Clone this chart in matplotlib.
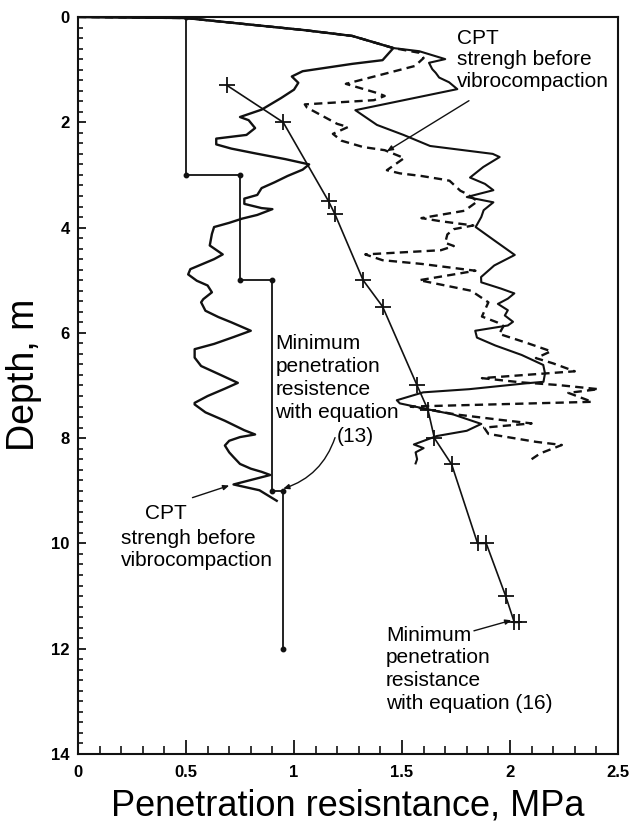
import matplotlib
matplotlib.use("Agg")
import matplotlib.pyplot as plt
from matplotlib.ticker import MultipleLocator, FuncFormatter

plt.rcParams['font.family'] = ['Liberation Sans', 'DejaVu Sans']

# Minimum penetration resistance, equation (13): stepped profile
step_x = [0.5, 0.5, 0.75, 0.75, 0.9, 0.9, 0.95, 0.95]
step_depth = [0, 3, 3, 5, 5, 9, 9, 12]

# Minimum penetration resistance, equation (16)
eq16_x = [0.69, 0.95, 1.16, 1.19, 1.32, 1.41, 1.57, 1.62, 1.65, 1.73,
          1.85, 1.89, 1.98, 2.02, 2.04]
eq16_depth = [1.3, 2.0, 3.5, 3.75, 5.0, 5.5, 7.0, 7.46, 8.0, 8.5,
              10.0, 10.0, 11.0, 11.5, 11.5]

# CPT sounding (left profile)
cpt_left_x = [0, 0.5, 0.81, 1.05, 1.27, 1.46, 1.41, 1.27, 1.04, 0.99, 1.02, 1.0,
              0.94, 0.85, 0.75, 0.79, 0.82, 0.78, 0.64, 0.64, 0.71, 0.82, 0.96,
              1.07, 1.04, 0.97, 0.91, 0.85, 0.83, 0.77, 0.77, 0.85, 0.90, 0.83,
              0.76, 0.70, 0.63, 0.62, 0.61, 0.67, 0.63, 0.52, 0.51, 0.55, 0.60,
              0.62, 0.58, 0.57, 0.59, 0.65, 0.71, 0.80, 0.72, 0.63, 0.54, 0.54,
              0.54, 0.57, 0.65, 0.74, 0.68, 0.60, 0.54, 0.54, 0.59, 0.68, 0.77,
              0.82, 0.75, 0.70, 0.68, 0.70, 0.72, 0.75, 0.80, 0.85, 0.89, 0.72,
              0.84, 0.92]
cpt_left_depth = [0, 0.02, 0.15, 0.25, 0.36, 0.59, 0.82, 0.89, 1.03, 1.13, 1.25,
                  1.38, 1.54, 1.76, 1.90, 1.96, 2.11, 2.24, 2.31, 2.42, 2.50,
                  2.59, 2.70, 2.80, 2.90, 3.02, 3.14, 3.25, 3.38, 3.45, 3.55,
                  3.63, 3.65, 3.76, 3.83, 3.91, 3.99, 4.12, 4.34, 4.51, 4.60,
                  4.79, 4.89, 5.01, 5.10, 5.23, 5.36, 5.42, 5.58, 5.70, 5.80,
                  5.96, 6.08, 6.21, 6.31, 6.37, 6.47, 6.63, 6.78, 6.95, 7.06,
                  7.20, 7.33, 7.36, 7.51, 7.67, 7.85, 7.93, 7.98, 8.05, 8.14,
                  8.27, 8.36, 8.49, 8.58, 8.64, 8.70, 8.88, 8.99, 9.19]

# CPT sounding (right profile, solid)
cpt_right_x = [0, 0.5, 0.81, 1.05, 1.27, 1.46, 1.58, 1.70, 1.625, 1.64, 1.656,
               1.672, 1.718, 1.756, 1.284, 1.384, 1.507, 1.63, 1.92, 1.952,
               1.876, 1.815, 1.884, 1.923, 1.80, 1.923, 1.878, 1.867, 1.841,
               1.926, 2.022, 1.927, 1.866, 1.867, 1.959, 2.02, 1.99, 1.944,
               1.99, 1.976, 2.014, 1.99, 1.839, 1.847, 1.932, 2.054, 2.154,
               2.162, 2.155, 2.071, 1.811, 1.598, 1.476, 1.49, 1.629, 1.737,
               1.867, 1.80, 1.661, 1.555, 1.60, 1.563, 1.57, 1.563]
cpt_right_depth = [0, 0.02, 0.15, 0.25, 0.36, 0.59, 0.65, 0.80, 0.87, 0.99, 1.06,
                   1.15, 1.24, 1.37, 1.77, 2.05, 2.24, 2.45, 2.60, 2.66, 2.85,
                   3.05, 3.17, 3.29, 3.42, 3.52, 3.67, 3.80, 3.99, 4.24, 4.52,
                   4.72, 4.94, 5.04, 5.16, 5.25, 5.35, 5.45, 5.57, 5.67, 5.79,
                   5.86, 5.96, 6.09, 6.24, 6.42, 6.61, 6.77, 6.93, 6.96, 7.07,
                   7.13, 7.28, 7.34, 7.46, 7.55, 7.73, 7.86, 7.96, 8.12, 8.19,
                   8.27, 8.40, 8.48]

# CPT sounding (right profile, dashed)
cpt_dash_x = [0, 0.5, 0.81, 1.05, 1.27, 1.46, 1.58, 1.60, 1.56, 1.40, 1.24, 1.39,
              1.42, 1.37, 1.05, 1.06, 1.20, 1.25, 1.18, 1.22, 1.32, 1.42, 1.51,
              1.43, 1.49, 1.59, 1.68, 1.72, 1.77, 1.80, 1.85, 1.79, 1.59, 1.68,
              1.83, 1.74, 1.71, 1.70, 1.74, 1.68, 1.33, 1.41, 1.59, 1.84, 1.74,
              1.58, 1.70, 1.82, 1.90, 1.87, 1.94, 1.97, 1.95, 2.07, 2.19, 2.12,
              2.20, 2.30, 1.87, 2.05, 2.22, 2.41, 2.27, 2.38, 1.54, 1.75, 1.95,
              2.10, 1.88, 1.90, 2.12, 2.24, 2.14, 2.10]
cpt_dash_depth = [0, 0.02, 0.15, 0.25, 0.36, 0.59, 0.68, 0.78, 0.93, 1.10, 1.27,
                  1.45, 1.50, 1.58, 1.66, 1.72, 2.03, 2.09, 2.22, 2.35, 2.47,
                  2.53, 2.68, 2.91, 2.97, 3.02, 3.08, 3.11, 3.30, 3.36, 3.50,
                  3.68, 3.82, 3.88, 3.96, 4.03, 4.13, 4.29, 4.35, 4.43, 4.51,
                  4.62, 4.69, 4.82, 4.89, 5.00, 5.10, 5.20, 5.42, 5.69, 5.80,
                  5.87, 6.02, 6.18, 6.35, 6.48, 6.58, 6.73, 6.86, 6.94, 6.99,
                  7.07, 7.14, 7.31, 7.40, 7.55, 7.65, 7.72, 7.80, 7.92, 8.07,
                  8.13, 8.29, 8.40]

x_ticks = [0, 0.5, 1, 1.5, 2, 2.5]
y_ticks = [0, 2, 4, 6, 8, 10, 12, 14]

W, H = 631, 827
fig = plt.figure(figsize=(W / 100, H / 100), dpi=100)
left, right, top, bottom = 78, 618, 17, 754
ax = fig.add_axes([left / W, 1 - bottom / H, (right - left) / W, (bottom - top) / H])

ink = '#111111'
ax.plot(cpt_left_x, cpt_left_depth, color=ink, lw=1.7)
ax.plot(cpt_right_x, cpt_right_depth, color=ink, lw=1.5)
ax.plot(cpt_dash_x, cpt_dash_depth, color=ink, lw=1.7, linestyle=(0, (3.5, 2.2)))
ax.plot(step_x, step_depth, color=ink, lw=1.3, marker='o', markersize=3.2)
ax.plot(eq16_x, eq16_depth, color=ink, lw=1.2, marker='+', markersize=11,
        markeredgewidth=1.3)

ax.set_xlim(0, 2.5)
ax.set_ylim(14, 0)
ax.xaxis.set_minor_locator(MultipleLocator(0.1))
ax.yaxis.set_minor_locator(MultipleLocator(0.2))
ax.set_xticks(x_ticks)
ax.set_yticks(y_ticks)
ax.xaxis.set_major_formatter(FuncFormatter(lambda v, p: f'{v:g}'))
ax.yaxis.set_major_formatter(FuncFormatter(lambda v, p: f'{v:g}'))
ax.tick_params(axis='x', which='major', direction='in', length=10, width=1.2,
               pad=8, labelsize=12)
ax.tick_params(axis='x', which='minor', direction='in', length=5.5, width=1.1)
ax.tick_params(axis='y', which='major', direction='in', length=6, width=1.2,
               pad=6, labelsize=12)
ax.tick_params(axis='y', which='minor', direction='in', length=3.8, width=1.1)
for lab in ax.get_xticklabels() + ax.get_yticklabels():
    lab.set_fontweight('bold')
for s in ax.spines.values():
    s.set_linewidth(1.5)
    s.set_color(ink)

fig.text(348 / W, 1 - 806 / H, 'Penetration resisntance, MPa', ha='center',
         va='center', fontsize=26)
fig.text(24 / W, 1 - 375 / H, 'Depth, m', ha='center', va='center',
         rotation=90, fontsize=27)

fs = 15
arrow = dict(arrowstyle='-|>,head_length=0.35,head_width=0.15', color=ink, lw=1.0,
             shrinkA=0, shrinkB=0)

# Upper-right label
for txt, d in [('CPT', 0.51), ('strengh before', 0.92), ('vibrocompaction', 1.33)]:
    ax.text(1.755, d, txt, ha='left', va='baseline', fontsize=fs)
ax.annotate('', xy=(1.43, 2.55), xytext=(1.81, 1.59), arrowprops=arrow)

# Lower-left label
ax.text(0.312, 9.53, 'CPT', ha='left', va='baseline', fontsize=fs)
ax.text(0.199, 10.01, 'strengh before', ha='left', va='baseline', fontsize=fs)
ax.text(0.199, 10.43, 'vibrocompaction', ha='left', va='baseline', fontsize=fs)
ax.annotate('', xy=(0.70, 8.90), xytext=(0.53, 9.13), arrowprops=arrow)

# Equation (13) label
for txt, d in [('Minimum', 6.30), ('penetration', 6.74), ('resistence', 7.18),
               ('with equation', 7.62)]:
    ax.text(0.913, d, txt, ha='left', va='baseline', fontsize=fs)
ax.text(1.198, 8.08, '(13)', ha='left', va='baseline', fontsize=fs)
arc = dict(arrow, connectionstyle='arc3,rad=-0.25')
ax.annotate('', xy=(0.95, 8.96), xytext=(1.19, 7.99), arrowprops=arc)

# Equation (16) label
for txt, d in [('Minimum', 11.85), ('penetration', 12.27), ('resistance', 12.70),
               ('with equation (16)', 13.14)]:
    ax.text(1.425, d, txt, ha='left', va='baseline', fontsize=fs)
ax.annotate('', xy=(2.006, 11.46), xytext=(1.833, 11.66), arrowprops=arrow)

fig.savefig('out.png', dpi=100)
